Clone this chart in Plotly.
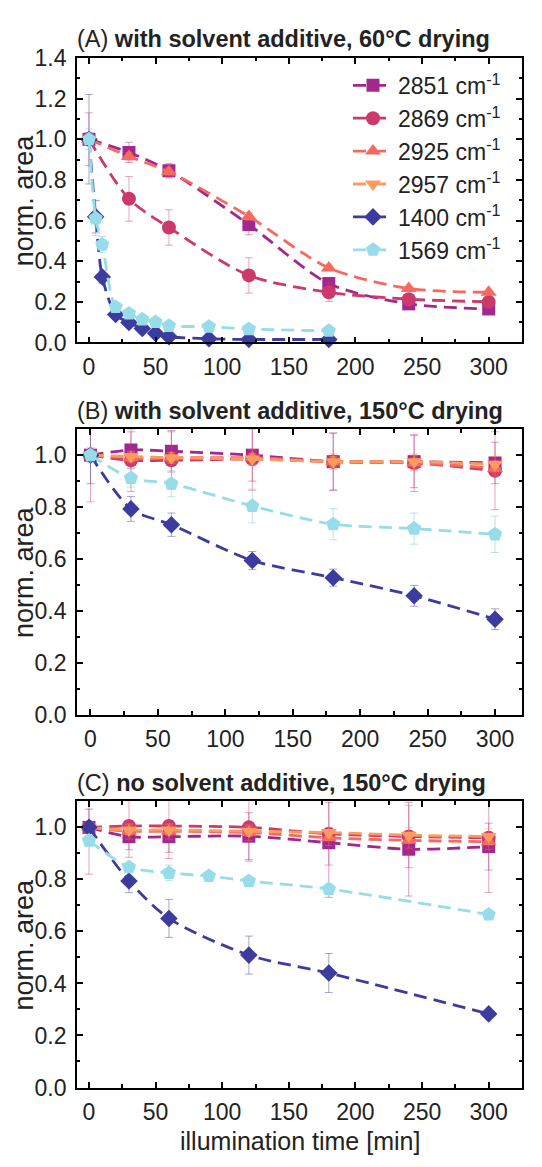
import plotly.graph_objects as go

# ---------------- data ----------------
labels = ["2851 cm<sup>-1</sup>", "2869 cm<sup>-1</sup>", "2925 cm<sup>-1</sup>",
          "2957 cm<sup>-1</sup>", "1400 cm<sup>-1</sup>", "1569 cm<sup>-1</sup>"]
colors = ["#A2288E", "#CB3A6A", "#F56A5E", "#FB9B5E", "#3C3C9E", "#97DDE9"]
err_colors = ["rgba(162,40,142,0.45)", "rgba(203,58,106,0.45)", "rgba(245,106,94,0.45)",
              "rgba(251,155,94,0.45)", "rgba(60,60,158,0.45)", "rgba(120,200,220,0.5)"]
symbols = ["square", "circle", "triangle-up", "triangle-down", "diamond", "pentagon"]
msizes = [13, 14, 14, 14, 13.5, 15]

# Panel A: with solvent additive, 60°C drying
tA_long = [0, 30, 60, 120, 180, 240, 300]
A_2851 = [1.0, 0.935, 0.845, 0.58, 0.29, 0.19, 0.165]
A_2851_err = [0.03, 0.05, 0.035, 0.05, 0.03, 0.01, 0.01]
A_2869 = [1.0, 0.707, 0.566, 0.33, 0.247, 0.213, 0.20]
A_2869_err = [0.13, 0.11, 0.087, 0.087, 0.045, 0.01, 0.01]
A_2925 = [1.0, 0.915, 0.84, 0.62, 0.367, 0.266, 0.247]
A_2925_err = [0.03, 0.02, 0.02, 0.02, 0.01, 0.01, 0.01]
tA_short = [0, 5, 10, 20, 30, 40, 50, 60, 90, 120, 180]
A_1400 = [1.0, 0.619, 0.322, 0.138, 0.098, 0.069, 0.045, 0.029, 0.018, 0.015, 0.015]
A_1400_err = [0.22, 0.08, 0.03, 0.01, 0.01, 0.01, 0.01, 0.01, 0.005, 0.005, 0.005]
A_1569 = [1.0, 0.611, 0.482, 0.175, 0.143, 0.114, 0.101, 0.082, 0.078, 0.066, 0.058]
A_1569_err = [0.05, 0.085, 0.04, 0.01, 0.01, 0.01, 0.01, 0.01, 0.01, 0.01, 0.02]

# Panel B: with solvent additive, 150°C drying
tB = [0, 30, 60, 120, 180, 240, 300]
B_2851 = [1.0, 1.02, 1.015, 1.0, 0.975, 0.975, 0.97]
B_2851_err = [0.02, 0.07, 0.08, 0.1, 0.11, 0.1, 0.08]
B_2869 = [1.0, 0.98, 0.98, 0.985, 0.975, 0.97, 0.94]
B_2869_err = [0.18, 0.12, 0.11, 0.12, 0.11, 0.11, 0.15]
B_2925 = [1.0, 0.99, 0.99, 0.99, 0.975, 0.97, 0.95]
B_2925_err = [0.02, 0.02, 0.02, 0.03, 0.03, 0.03, 0.03]
B_2957 = [1.0, 0.995, 0.99, 0.985, 0.975, 0.975, 0.965]
B_2957_err = [0.02, 0.02, 0.02, 0.02, 0.02, 0.03, 0.03]
B_1400 = [1.0, 0.793, 0.732, 0.594, 0.528, 0.458, 0.368]
B_1400_err = [0.11, 0.048, 0.045, 0.035, 0.033, 0.04, 0.04]
B_1569 = [1.0, 0.912, 0.89, 0.804, 0.734, 0.717, 0.695]
B_1569_err = [0.03, 0.035, 0.05, 0.065, 0.06, 0.06, 0.07]

# Panel C: no solvent additive, 150°C drying
tC = [0, 30, 60, 120, 180, 240, 300]
C_2851 = [1.0, 0.964, 0.964, 0.966, 0.941, 0.916, 0.926]
C_2851_err = [0.02, 0.05, 0.06, 0.09, 0.21, 0.18, 0.09]
C_2869 = [1.0, 1.005, 1.005, 1.0, 0.975, 0.965, 0.96]
C_2869_err = [0.18, 0.12, 0.125, 0.13, 0.12, 0.12, 0.21]
C_2925 = [1.0, 0.985, 0.985, 0.98, 0.96, 0.95, 0.945]
C_2925_err = [0.02, 0.03, 0.03, 0.03, 0.03, 0.03, 0.03]
C_2957 = [1.0, 0.99, 0.99, 0.985, 0.98, 0.97, 0.965]
C_2957_err = [0.02, 0.02, 0.02, 0.02, 0.02, 0.03, 0.03]
tC_1400 = [0, 30, 60, 120, 180, 300]
C_1400 = [1.0, 0.794, 0.65, 0.509, 0.44, 0.283]
C_1400_err = [0.07, 0.045, 0.073, 0.073, 0.075, 0.01]
tC_1569 = [0, 30, 60, 90, 120, 180, 300]
C_1569 = [0.949, 0.847, 0.825, 0.813, 0.794, 0.763, 0.665]
C_1569_err = [0.02, 0.01, 0.03, 0.01, 0.01, 0.02, 0.01]

panels = {
    "A": [(0, tA_long, A_2851, A_2851_err), (1, tA_long, A_2869, A_2869_err),
          (2, tA_long, A_2925, A_2925_err), (4, tA_short, A_1400, A_1400_err),
          (5, tA_short, A_1569, A_1569_err)],
    "B": [(0, tB, B_2851, B_2851_err), (1, tB, B_2869, B_2869_err),
          (2, tB, B_2925, B_2925_err), (3, tB, B_2957, B_2957_err),
          (4, tB, B_1400, B_1400_err), (5, tB, B_1569, B_1569_err)],
    "C": [(0, tC, C_2851, C_2851_err), (1, tC, C_2869, C_2869_err),
          (2, tC, C_2925, C_2925_err), (3, tC, C_2957, C_2957_err),
          (4, tC_1400, C_1400, C_1400_err), (5, tC_1569, C_1569, C_1569_err)],
}
axis_ids = {"A": ("x", "y"), "B": ("x2", "y2"), "C": ("x3", "y3")}
titles = {"A": "(A) <b>with solvent additive, 60°C drying</b>",
          "B": "(B) <b>with solvent additive, 150°C drying</b>",
          "C": "(C) <b>no solvent additive, 150°C drying</b>"}

W, H = 542, 1167
FONT = "Liberation Sans, Arial, Helvetica, sans-serif"
TXT = "#222222"

fig = go.Figure()
for key in ["A", "B", "C"]:
    xa, ya = axis_ids[key]
    for idx, t, v, e in panels[key]:
        fig.add_trace(go.Scatter(
            x=t, y=v, xaxis=xa, yaxis=ya, mode="lines+markers",
            name=labels[idx], legendgroup=labels[idx], showlegend=(key == "B"),
            line=dict(color=colors[idx], width=2.8, dash="13px,7px", shape="spline", smoothing=0.8),
            marker=dict(symbol=symbols[idx], size=msizes[idx], color=colors[idx], line=dict(width=0)),
            error_y=dict(type="data", array=e, visible=True, color=err_colors[idx], thickness=1, width=4),
            cliponaxis=False,
        ))

# plot geometry in pixels
x0px, x1px = 77, 522
ydom_px = {"A": (46, 337), "B": (425.7, 717.7), "C": (806.3, 1099)}
xranges = {"A": [-9, 325], "B": [-10, 320], "C": [-9, 325]}
yranges = {"A": [0, 1.4], "B": [0, 1.1], "C": [0, 1.1]}

def base_axis():
    return dict(showline=True, linecolor="black", linewidth=1.8, mirror="ticks",
                ticks="inside", ticklen=6, tickwidth=1.8, tickcolor="black",
                showgrid=False, zeroline=False,
                tickfont=dict(size=23, color=TXT, family=FONT))

layout = dict(width=W, height=H, margin=dict(l=0, r=0, t=0, b=0),
              paper_bgcolor="white", plot_bgcolor="white",
              font=dict(family=FONT, color=TXT), showlegend=True,
              legend=dict(x=348 / W, y=1 - 52 / H, xanchor="left", yanchor="top",
                          bgcolor="rgba(0,0,0,0)", font=dict(size=23, color=TXT, family=FONT),
                          tracegroupgap=0, itemwidth=40))
annotations = []
for key in ["A", "B", "C"]:
    xa, ya = axis_ids[key]
    xn = "xaxis" + xa[1:]
    yn = "yaxis" + ya[1:]
    top, bot = ydom_px[key]
    xd = base_axis()
    xd.update(domain=[x0px / W, x1px / W], range=xranges[key], anchor=ya,
              tick0=0, dtick=50, ticklabelstandoff=3,
              minor=dict(ticks="inside", ticklen=3.5, tickwidth=1.5, tickcolor="black", tick0=0, dtick=25))
    yd = base_axis()
    yd.update(domain=[1 - bot / H, 1 - top / H], range=yranges[key], anchor=xa,
              tick0=0, dtick=0.2, tickformat=".1f", ticklabelstandoff=4,
              minor=dict(ticks="inside", ticklen=3.5, tickwidth=1.5, tickcolor="black", tick0=0, dtick=0.1))
    layout[xn] = xd
    layout[yn] = yd
    annotations.append(dict(text=titles[key], xref="paper", yref="paper",
                            x=(x0px - 2) / W, y=1 - (top - 19) / H, xanchor="left", yanchor="middle",
                            showarrow=False, font=dict(size=23.5, color=TXT, family=FONT)))
    annotations.append(dict(text="norm. area", xref="paper", yref="paper",
                            x=24 / W, y=1 - (top + bot) / 2 / H, xanchor="center", yanchor="middle",
                            textangle=-90, showarrow=False, font=dict(size=27, color=TXT, family=FONT)))

annotations.append(dict(text="illumination time [min]", xref="paper", yref="paper",
                        x=(x0px + x1px) / 2 / W, y=1 - 1154 / H, xanchor="center", yanchor="middle",
                        showarrow=False, font=dict(size=25, color=TXT, family=FONT)))
layout["annotations"] = annotations
fig.update_layout(**layout)
fig.write_html("out.html")
